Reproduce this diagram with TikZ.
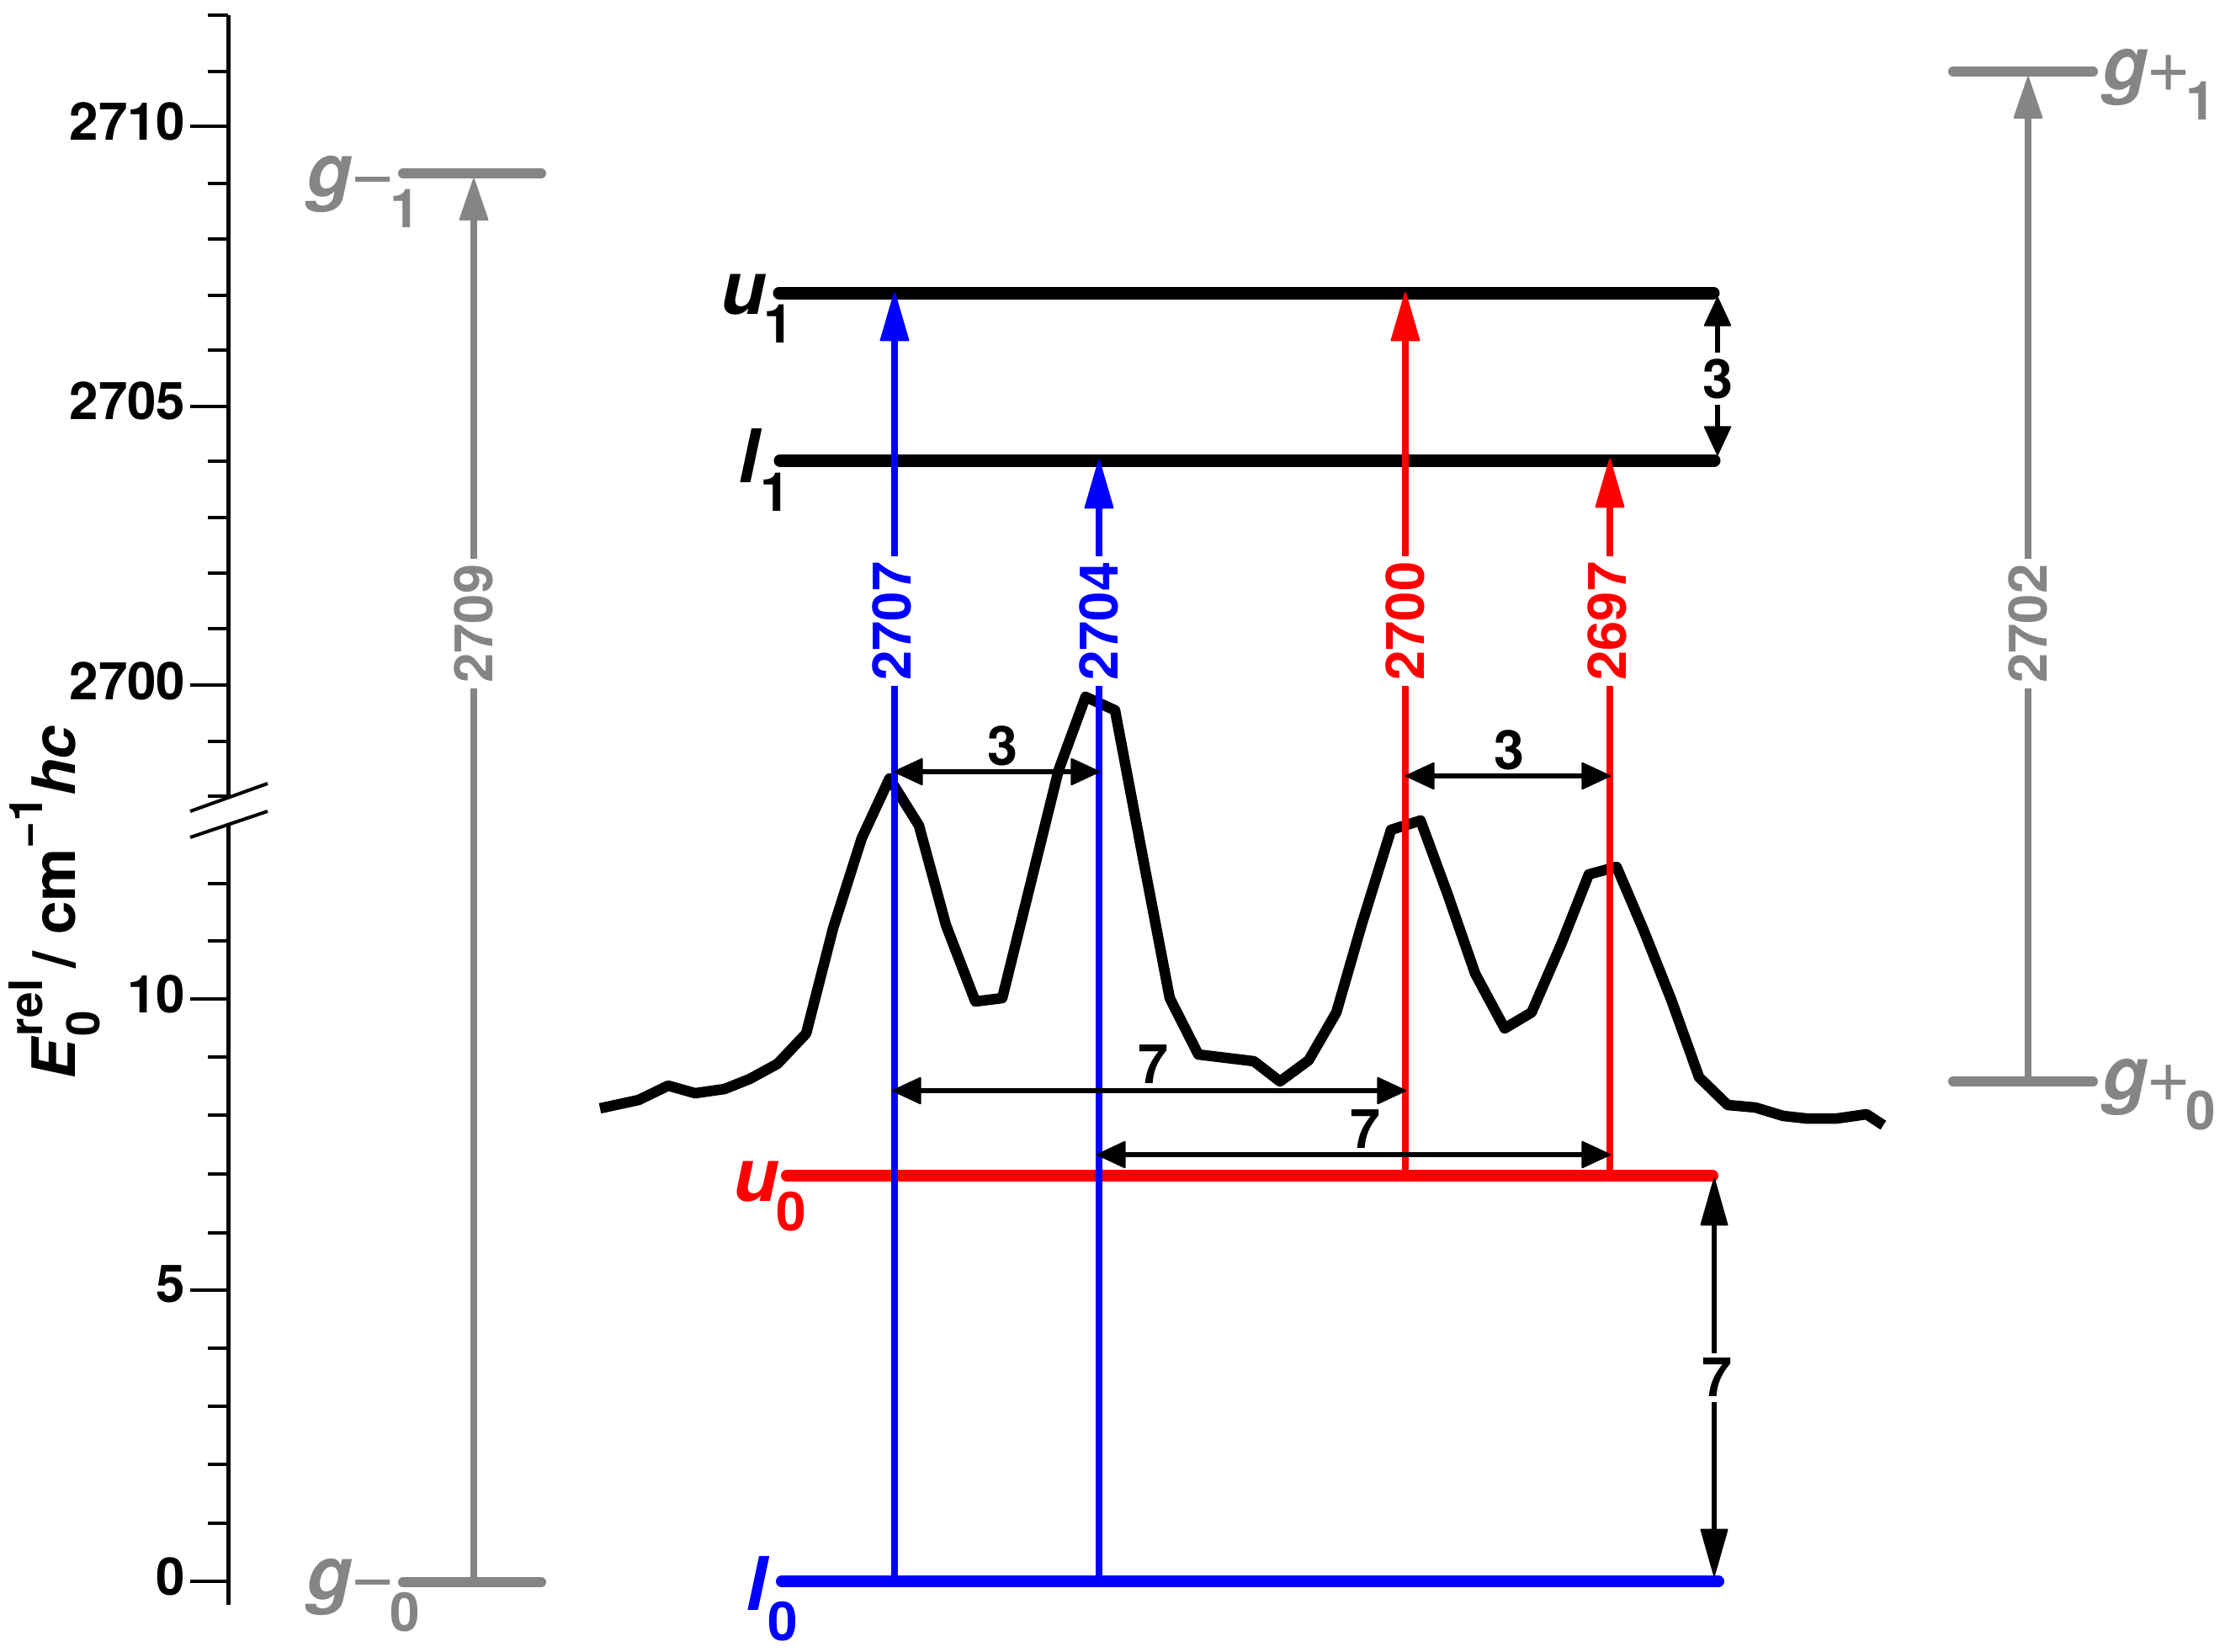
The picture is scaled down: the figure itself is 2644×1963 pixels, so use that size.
\documentclass[tikz,border=0pt]{standalone}
\usepackage{fontspec}
\setmainfont{TeX Gyre Heros}
\newfontfamily\signfont{Liberation Sans}
\usetikzlibrary{arrows.meta}
\definecolor{grayl}{HTML}{858585}
\definecolor{bluel}{RGB}{0,0,255}
\definecolor{redl}{RGB}{255,0,0}
\newcommand{\pxfont}[1]{\fontsize{#1}{#1}\selectfont}
\newcommand{\levname}[3]{\pxfont{25}\textbf{\textit{#1}}\hspace{-0.03cm}\raisebox{-#2}{\pxfont{18.2}\textbf{#3}}}
\newcommand{\gname}[3]{\pxfont{25}\textbf{\textit{g}}\raisebox{-0.08cm}{\pxfont{24}\signfont #1}\hspace{-0.05cm}\raisebox{-#2}{\pxfont{18.2}\textbf{#3}}}
\tikzset{tipt/.tip={Triangle[round,line width=0.02cm,length=0.61cm,width=0.35cm]},
    tipg/.tip={Triangle[round,line width=0.02cm,length=0.52cm,width=0.35cm]},
    tipa/.tip={Triangle[round,line width=0.02cm,length=0.36cm,width=0.33cm]},
    tips/.tip={Triangle[round,line width=0.02cm,length=0.59cm,width=0.33cm]}}
\tikzstyle{tick} = [line width=0.045cm]
\tikzstyle{lev} = [line width=0.14cm, line cap=round]
\tikzstyle{glev} = [line width=0.12cm, line cap=round, color=grayl]
\tikzstyle{trans} = [line width=0.08cm]
\tikzstyle{gap} = [line width=0.053cm]
\tikzstyle{num} = [font=\pxfont{17.6}\bfseries, inner sep=0pt]
\tikzstyle{axnum} = [num, anchor=east]
\tikzstyle{wave} = [num, rotate=90, minimum width=1.53cm, font=\pxfont{18}\bfseries]
\tikzstyle{diff} = [num, font=\pxfont{18.4}\bfseries]
\tikzstyle{lname} = [inner sep=0pt, anchor=base west]

\begin{document}
\begin{tikzpicture}[x=0.01cm, y=-0.01cm]
\useasboundingbox (0,0) rectangle (2644,1963);

\coordinate (axtop) at (271,18);
\coordinate (axup) at (271,947);
\coordinate (axlow) at (271,980);
\coordinate (axbot) at (271,1907);
\draw [line width=0.05cm] (axtop) -- (axup);
\draw [line width=0.05cm] (axlow) -- (axbot);
\draw [line width=0.04cm] (226,964) -- (318,931);
\draw [line width=0.04cm] (226,995) -- (318,964);

\draw [tick] (247,18) -- (271,18) (247,85) -- (271,85) (226,150) -- (271,150);
\draw [tick] (247,218) -- (271,218) (247,284) -- (271,284) (247,351) -- (271,351) (247,416) -- (271,416);
\draw [tick] (226,483) -- (271,483) (247,548) -- (271,548) (247,615) -- (271,615) (247,681) -- (271,681);
\draw [tick] (247,747) -- (271,747) (226,814) -- (271,814) (247,881) -- (271,881) (247,946) -- (271,946);
\draw [tick] (247,1050) -- (271,1050) (247,1118) -- (271,1118) (226,1187) -- (271,1187);
\draw [tick] (247,1256) -- (271,1256) (247,1325) -- (271,1325) (247,1395) -- (271,1395) (247,1465) -- (271,1465);
\draw [tick] (226,1533) -- (271,1533) (247,1602) -- (271,1602) (247,1671) -- (271,1671);
\draw [tick] (247,1740) -- (271,1740) (247,1810) -- (271,1810) (226,1879) -- (271,1879);

\node [axnum, name=n2710] at (221,144) {2710};
\node [axnum, name=n2705] at (221,476) {2705};
\node [axnum, name=n2700] at (221,809) {2700};
\node [axnum, name=n10] at (221,1181) {10};
\node [axnum, name=n5] at (221,1526) {5};
\node [axnum, name=n0] at (221,1873) {0};

\node [lname, rotate=90, name=axtitle] at (89,1283) {\pxfont{20.2}\bfseries\textit{E}\rlap{\raisebox{0.38cm}{\pxfont{15.6}rel}}\raisebox{-0.29cm}{\pxfont{15.6}0}\hspace{0.5cm}/\hspace{0.2cm}cm\raisebox{0.38cm}{\pxfont{15.6}−1}\textit{hc}};

\draw [line width=0.125cm, line join=round] (713,1317) -- (759,1307) -- (794,1290) -- (826,1299) -- (861,1294) -- (891,1282) -- (924,1264) -- (958,1228) -- (990,1103) -- (1024,996) -- (1057,925) -- (1092,981) -- (1124,1099) -- (1159,1190) -- (1191,1186) -- (1258,915) -- (1290,828) -- (1325,844) -- (1360,1029) -- (1390,1186) -- (1424,1253) -- (1490,1261) -- (1521,1285) -- (1555,1260) -- (1588,1203) -- (1618,1099) -- (1653,986) -- (1688,975) -- (1720,1062) -- (1753,1157) -- (1788,1222) -- (1820,1203) -- (1856,1120) -- (1888,1039) -- (1921,1030) -- (1953,1105) -- (1986,1188) -- (2019,1280) -- (2053,1313) -- (2086,1316) -- (2119,1326) -- (2146,1329) -- (2183,1329) -- (2218,1324) -- (2238,1337);

\coordinate (u1l) at (926,348);
\coordinate (u1r) at (2036,348);
\coordinate (l1l) at (927,547);
\coordinate (l1r) at (2037,547);
\coordinate (u0l) at (935,1397);
\coordinate (u0r) at (2035,1397);
\coordinate (l0l) at (929,1879);
\coordinate (l0r) at (2042,1879);
\draw [lev, line width=0.15cm] (u1l) -- (u1r);
\draw [lev, line width=0.15cm] (l1l) -- (l1r);
\draw [lev, color=redl] (u0l) -- (u0r);
\draw [lev, color=bluel] (l0l) -- (l0r);

\node [lname, name=nu1] at (856,373) {\levname{u}{0.34cm}{1}};
\node [lname, name=nl1] at (877,573) {\levname{l}{0.34cm}{1}};
\node [lname, name=nu0, text=redl] at (871,1427) {\levname{u}{0.35cm}{0}};
\node [lname, name=nl0, text=bluel] at (886,1913) {\levname{l}{0.36cm}{0}};

\coordinate (gm0l) at (479,1880);
\coordinate (gm0r) at (643,1880);
\coordinate (gm1l) at (479,206);
\coordinate (gm1r) at (643,206);
\coordinate (gp0l) at (2321,1285);
\coordinate (gp0r) at (2487,1285);
\coordinate (gp1l) at (2321,85);
\coordinate (gp1r) at (2487,85);
\draw [glev] (gm0l) -- (gm0r);
\draw [glev] (gm1l) -- (gm1r);
\draw [glev] (gp0l) -- (gp0r);
\draw [glev] (gp1l) -- (gp1r);

\node [lname, name=ngm1, text=grayl] at (364,233) {\gname{−}{0.37cm}{1}};
\node [lname, name=ngm0, text=grayl] at (364,1900) {\gname{−}{0.38cm}{0}};
\node [lname, name=ngp1, text=grayl] at (2498,106) {\gname{+}{0.36cm}{1}};
\node [lname, name=ngp0, text=grayl] at (2498,1306) {\gname{+}{0.36cm}{0}};

\coordinate (gmbot) at (563,1874);
\coordinate (gmtop) at (563,212);
\coordinate (gpbot) at (2410,1279);
\coordinate (gptop) at (2410,91);
\node [wave, name=w2709, text=grayl] at (563,741) {2709};
\node [wave, name=w2702, text=grayl] at (2410,741) {2702};
\draw [trans, color=grayl] (gmbot) -- (w2709);
\draw [trans, color=grayl, -tipg] (w2709) -- (gmtop);
\draw [trans, color=grayl] (gpbot) -- (w2702);
\draw [trans, color=grayl, -tipg] (w2702) -- (gptop);

\coordinate (b1bot) at (1063,1879);
\coordinate (b1top) at (1063,347);
\coordinate (b2bot) at (1306,1879);
\coordinate (b2top) at (1306,546);
\coordinate (r1bot) at (1670,1397);
\coordinate (r1top) at (1670,347);
\coordinate (r2bot) at (1913,1397);
\coordinate (r2top) at (1913,545);
\node [wave, name=w2707, text=bluel, text depth=0.06cm] at (1063,738) {2707};
\node [wave, name=w2704, text=bluel] at (1306,738) {2704};
\node [wave, name=w2700, text=redl] at (1670,738) {2700};
\node [wave, name=w2697, text=redl, text depth=0.06cm] at (1913,738) {2697};
\draw [trans, color=bluel] (b1bot) -- (w2707);
\draw [trans, color=bluel, -tipt] (w2707) -- (b1top);
\draw [trans, color=bluel] (b2bot) -- (w2704);
\draw [trans, color=bluel, -tipt] (w2704) -- (b2top);
\draw [trans, color=redl] (r1bot) -- (w2700);
\draw [trans, color=redl, -tipt] (w2700) -- (r1top);
\draw [trans, color=redl] (r2bot) -- (w2697);
\draw [trans, color=redl, -tipt] (w2697) -- (r2top);

\coordinate (d3atop) at (2041,353);
\coordinate (d3abot) at (2041,541);
\coordinate (d7atop) at (2037,1400);
\coordinate (d7abot) at (2037,1873);
\node [diff, name=n3v, minimum height=0.6cm] at (2041,450) {3};
\node [diff, name=n7v, minimum height=0.57cm] at (2037,1637) {\hspace{0.06cm}7};
\draw [gap, -tipa] (n3v) -- (d3atop);
\draw [gap, -tipa] (n3v) -- (d3abot);
\draw [gap, -tips] (n7v) -- (d7atop);
\draw [gap, -tips] (n7v) -- (d7abot);

\coordinate (h3al) at (1062,917);
\coordinate (h3ar) at (1307,917);
\coordinate (h3bl) at (1670,922);
\coordinate (h3br) at (1914,922);
\coordinate (h7al) at (1060,1296);
\coordinate (h7ar) at (1671,1296);
\coordinate (h7bl) at (1303,1372);
\coordinate (h7br) at (1914,1372);
\draw [gap, tipa-tipa] (h3al) -- (h3ar);
\draw [gap, tipa-tipa] (h3bl) -- (h3br);
\draw [gap, tipa-tipa] (h7al) -- (h7ar);
\draw [gap, tipa-tipa] (h7bl) -- (h7br);
\node [diff, name=n3a] at (1191,886) {3};
\node [diff, name=n3b] at (1793,891) {3};
\node [diff, name=n7a] at (1370,1265) {7};
\node [diff, name=n7b] at (1622,1342) {7};

\end{tikzpicture}
\end{document}
